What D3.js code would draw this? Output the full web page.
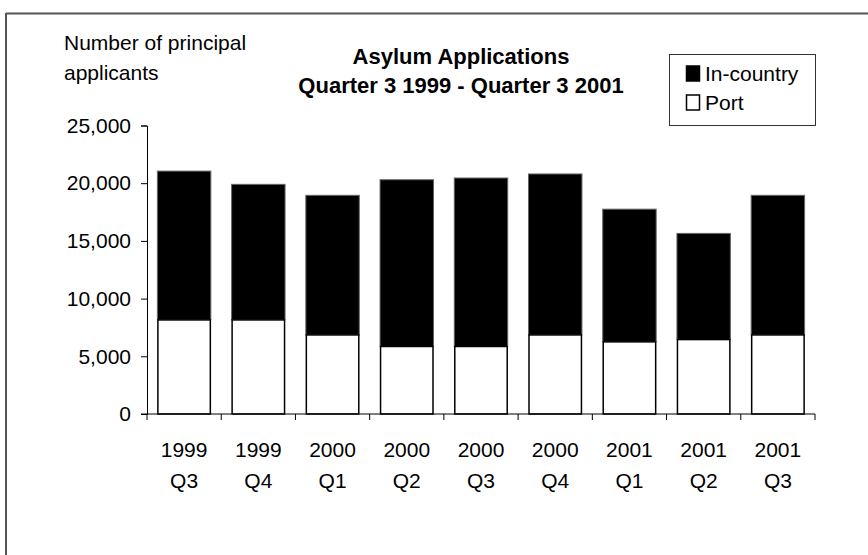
<!DOCTYPE html>
<html><head><meta charset="utf-8">
<script src="https://cdn.jsdelivr.net/npm/d3@7"></script>
<style>body{margin:0;background:#fff}svg{display:block;font-family:"Liberation Sans",Arial,sans-serif}</style>
</head><body><svg id="c" width="868" height="555"></svg>
<script>
const years = ["1999","1999","2000","2000","2000","2000","2001","2001","2001"];
const quarters = ["Q3","Q4","Q1","Q2","Q3","Q4","Q1","Q2","Q3"];
const port = [8150, 8150, 6850, 5850, 5850, 6850, 6250, 6450, 6850];
const inCountry = [12900, 11750, 12100, 14450, 14600, 13950, 11500, 9200, 12100];
const yTicks = [0, 5000, 10000, 15000, 20000, 25000];
const seriesNames = ["In-country", "Port"];

const svg = d3.select("#c");
const cats = years.map((y,i)=>i);
const x = d3.scaleBand().domain(cats).range([147, 815]).paddingInner(0.28).paddingOuter(0.14);
const y = d3.scaleLinear().domain([0, 25000]).range([414, 125.5]);
const FS = 21;

// frame (top and left visible)
svg.append("line").attr("x1",6).attr("x2",868).attr("y1",13.5).attr("y2",13.5).attr("stroke","#555").attr("stroke-width",2);
svg.append("line").attr("x1",6).attr("x2",6).attr("y1",13).attr("y2",555).attr("stroke","#555").attr("stroke-width",2);

// bars
const g = svg.append("g");
cats.forEach(i=>{
  g.append("rect").attr("x",x(i)).attr("width",x.bandwidth())
    .attr("y",y(port[i]+inCountry[i])).attr("height",y(port[i])-y(port[i]+inCountry[i]))
    .attr("fill","#000").attr("stroke","#666").attr("stroke-width",1);
  g.append("rect").attr("x",x(i)+0.5).attr("width",x.bandwidth()-1)
    .attr("y",y(port[i])).attr("height",y(0)-y(port[i]))
    .attr("fill","#fff").attr("stroke","#000").attr("stroke-width",1.5);
});

// y axis
const fmt = d3.format(",");
const ya = svg.append("g").attr("transform","translate(147,0)")
  .call(d3.axisLeft(y).tickValues(yTicks).tickFormat(fmt).tickSize(6).tickPadding(10));
ya.select(".domain").attr("stroke","#000").attr("stroke-width",1);
ya.selectAll(".tick line").attr("stroke","#000");
ya.selectAll("text").attr("font-size",FS).attr("fill","#000").attr("font-family","Liberation Sans, Arial, sans-serif");

// x axis
const xa = svg.append("g").attr("transform","translate(0,414)");
xa.append("line").attr("x1",141).attr("x2",815).attr("y1",0).attr("y2",0).attr("stroke","#000");
const edges = cats.map(i=>x(i)-x.step()*x.paddingInner()/2).concat([815]);
edges.forEach(e=>xa.append("line").attr("x1",e).attr("x2",e).attr("y1",0).attr("y2",6).attr("stroke","#000"));
cats.forEach(i=>{
  const cx = x(i)+x.bandwidth()/2;
  xa.append("text").attr("x",cx).attr("y",43).attr("text-anchor","middle").attr("font-size",FS).text(years[i]);
  xa.append("text").attr("x",cx).attr("y",74).attr("text-anchor","middle").attr("font-size",FS).text(quarters[i]);
});

// y label
svg.append("text").attr("x",64).attr("y",50).attr("font-size",FS).text("Number of principal");
svg.append("text").attr("x",64).attr("y",80).attr("font-size",FS).text("applicants");

// title
svg.append("text").attr("x",461).attr("y",64).attr("text-anchor","middle").attr("font-size",22).attr("font-weight","bold").text("Asylum Applications");
svg.append("text").attr("x",461).attr("y",93).attr("text-anchor","middle").attr("font-size",22).attr("font-weight","bold").text("Quarter 3 1999 - Quarter 3 2001");

// legend
const lg = svg.append("g");
lg.append("rect").attr("x",669.5).attr("y",54.5).attr("width",146).attr("height",71).attr("fill","#fff").attr("stroke","#333").attr("stroke-width",1);
seriesNames.forEach((n,k)=>{
  const yy = 66 + k*29;
  lg.append("rect").attr("x",686.5).attr("y",yy).attr("width",13).attr("height",15)
    .attr("fill",k===0?"#000":"#fff").attr("stroke","#000").attr("stroke-width",1.5);
  lg.append("text").attr("x",705).attr("y",yy+15).attr("font-size",FS).text(n);
});
</script>
</body></html>
